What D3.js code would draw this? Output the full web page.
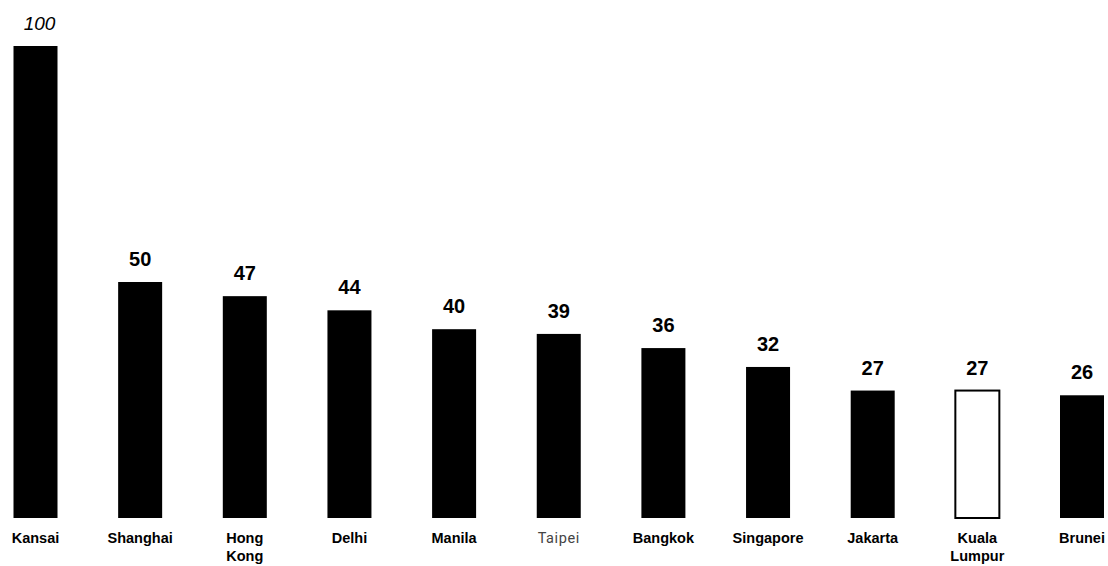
<!DOCTYPE html>
<html>
<head>
<meta charset="utf-8">
<script src="https://cdn.jsdelivr.net/npm/d3@7/dist/d3.min.js"></script>
<style>
  html, body { margin: 0; padding: 0; background: #fff; }
  svg { display: block; }
</style>
</head>
<body>
<svg id="chart" width="1108" height="566"></svg>
<script>
// City index values (Kansai = 100)
const cities = ["Kansai", "Shanghai", "Hong Kong", "Delhi", "Manila", "Taipei",
                "Bangkok", "Singapore", "Jakarta", "Kuala Lumpur", "Brunei"];
const values = [100, 50, 47, 44, 40, 39, 36, 32, 27, 27, 26];
// Category labels split into lines
const labelLines = [["Kansai"], ["Shanghai"], ["Hong", "Kong"], ["Delhi"], ["Manila"], ["Taipei"],
                    ["Bangkok"], ["Singapore"], ["Jakarta"], ["Kuala", "Lumpur"], ["Brunei"]];
const highlighted = ["Kuala Lumpur"];

const svg = d3.select("#chart");
const barWidth = 44;

const x = d3.scalePoint()
  .domain(cities)
  .range([35.5, 1082]);

const y = d3.scaleLinear()
  .domain([0, 100])
  .range([518, 46]);

const data = cities.map((c, i) => ({ city: c, value: values[i], lines: labelLines[i] }));

// Bars
svg.append("g")
  .selectAll("rect")
  .data(data)
  .join("rect")
  .attr("x", d => x(d.city) - barWidth / 2)
  .attr("y", d => y(d.value))
  .attr("width", barWidth)
  .attr("height", d => y(0) - y(d.value))
  .attr("fill", d => highlighted.includes(d.city) ? "#fff" : "#000")
  .attr("stroke", d => highlighted.includes(d.city) ? "#000" : "none")
  .attr("stroke-width", 2);

// Value labels above bars
svg.append("g")
  .selectAll("text")
  .data(data)
  .join("text")
  .attr("x", (d, i) => x(d.city) + (i === 0 ? 4 : 0))
  .attr("y", d => y(d.value) - 16)
  .attr("text-anchor", "middle")
  .attr("font-family", "'Liberation Sans', Arial, sans-serif")
  .attr("font-size", (d, i) => i === 0 ? 19 : 20)
  .attr("font-weight", (d, i) => i === 0 ? "normal" : "bold")
  .attr("font-style", (d, i) => i === 0 ? "italic" : "normal")
  .attr("fill", "#000")
  .text(d => d.value);

// Category labels below bars
const labels = svg.append("g")
  .selectAll("text")
  .data(data)
  .join("text")
  .attr("x", d => x(d.city))
  .attr("y", 543)
  .attr("text-anchor", "middle")
  .attr("font-family", d => d.city === "Taipei" ? "Roboto, 'Open Sans', sans-serif" : "'Liberation Sans', Arial, sans-serif")
  .attr("font-size", d => d.city === "Taipei" ? 14.5 : 14.5)
  .attr("font-weight", d => d.city === "Taipei" ? "normal" : "bold")
  .attr("letter-spacing", d => d.city === "Taipei" ? 0.6 : 0)
  .attr("fill", d => d.city === "Taipei" ? "#444" : "#000");

labels.selectAll("tspan")
  .data(d => d.lines)
  .join("tspan")
  .attr("x", function() { return d3.select(this.parentNode).attr("x"); })
  .attr("dy", (d, i) => i === 0 ? 0 : 18)
  .text(d => d);
</script>
</body>
</html>
